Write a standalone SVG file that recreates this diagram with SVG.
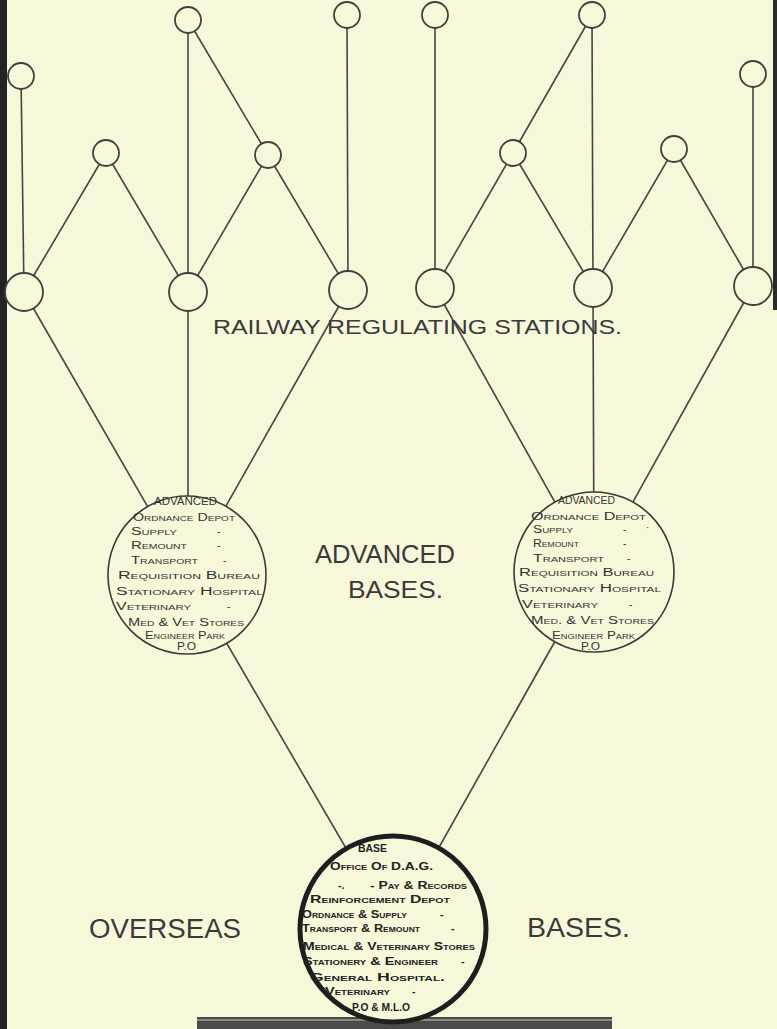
<svg xmlns="http://www.w3.org/2000/svg" width="777" height="1029" viewBox="0 0 777 1029">
<style>
.bg{fill:#f7f8da}
.ln{stroke:#454545;stroke-width:1.6;fill:none}
.st{stroke:#3f3f3f;stroke-width:1.8;fill:#f7f8da}
.big{stroke:#3a3a3a;stroke-width:1.6;fill:#f7f8da}
.base{stroke:#1e1e1e;stroke-width:5;fill:#f7f8da}
.s{font-family:"Liberation Sans",Arial,sans-serif;font-size:10px;font-variant:small-caps;fill:#333}
.b{font-family:"Liberation Sans",Arial,sans-serif;font-size:10.5px;font-variant:small-caps;font-weight:bold;fill:#222}
.lbl{font-family:"Liberation Sans",Arial,sans-serif;fill:#3a3a3a}
</style>
<rect class="bg" x="0" y="0" width="777" height="1029"/>
<rect x="0" y="0" width="7" height="1029" fill="#232323"/>
<rect x="773" y="0" width="4" height="310" fill="#2a2a2a"/>
<rect x="197" y="1017" width="415" height="12" fill="#4a4a48"/>
<rect x="197" y="1019" width="415" height="2" fill="#8a8a84"/>

<g id="connectors">
<line class="ln" x1="21" y1="76" x2="24" y2="292"/>
<line class="ln" x1="24" y1="292" x2="106" y2="153"/>
<line class="ln" x1="106" y1="153" x2="188" y2="292"/>
<line class="ln" x1="188" y1="20" x2="188" y2="292"/>
<line class="ln" x1="188" y1="20" x2="268" y2="155"/>
<line class="ln" x1="268" y1="155" x2="188" y2="292"/>
<line class="ln" x1="268" y1="155" x2="348" y2="290"/>
<line class="ln" x1="347" y1="15" x2="348" y2="290"/>
<line class="ln" x1="435" y1="15" x2="435" y2="288"/>
<line class="ln" x1="435" y1="288" x2="513" y2="153"/>
<line class="ln" x1="513" y1="153" x2="592" y2="15"/>
<line class="ln" x1="513" y1="153" x2="593" y2="288"/>
<line class="ln" x1="592" y1="15" x2="593" y2="288"/>
<line class="ln" x1="593" y1="288" x2="674" y2="149"/>
<line class="ln" x1="674" y1="149" x2="753" y2="286"/>
<line class="ln" x1="753" y1="74" x2="753" y2="286"/>
<line class="ln" x1="24" y1="292" x2="187" y2="575"/>
<line class="ln" x1="188" y1="292" x2="188" y2="575"/>
<line class="ln" x1="348" y1="290" x2="187" y2="575"/>
<line class="ln" x1="435" y1="288" x2="594" y2="572"/>
<line class="ln" x1="593" y1="288" x2="594" y2="572"/>
<line class="ln" x1="753" y1="286" x2="594" y2="572"/>
<line class="ln" x1="187" y1="575" x2="393" y2="929"/>
<line class="ln" x1="594" y1="572" x2="393" y2="929"/>
</g>

<g id="n-top-1"><circle class="st" cx="21" cy="76" r="13"/></g>
<g id="n-top-2"><circle class="st" cx="188" cy="20" r="13"/></g>
<g id="n-top-3"><circle class="st" cx="347" cy="15" r="13"/></g>
<g id="n-top-4"><circle class="st" cx="435" cy="15" r="13"/></g>
<g id="n-top-5"><circle class="st" cx="592" cy="15" r="13"/></g>
<g id="n-top-6"><circle class="st" cx="753" cy="74" r="13"/></g>
<g id="n-mid-1"><circle class="st" cx="106" cy="153" r="13"/></g>
<g id="n-mid-2"><circle class="st" cx="268" cy="155" r="13"/></g>
<g id="n-mid-3"><circle class="st" cx="513" cy="153" r="13"/></g>
<g id="n-mid-4"><circle class="st" cx="674" cy="149" r="13"/></g>
<g id="rs-1"><circle class="st" cx="24" cy="292" r="19"/></g>
<g id="rs-2"><circle class="st" cx="188" cy="292" r="19"/></g>
<g id="rs-3"><circle class="st" cx="348" cy="290" r="19"/></g>
<g id="rs-4"><circle class="st" cx="435" cy="288" r="19"/></g>
<g id="rs-5"><circle class="st" cx="593" cy="288" r="19"/></g>
<g id="rs-6"><circle class="st" cx="753" cy="286" r="19"/></g>

<g id="label-rrs"><text class="lbl" x="213" y="334" font-size="20" textLength="409" lengthAdjust="spacingAndGlyphs">RAILWAY REGULATING STATIONS.</text></g>

<g id="adv-left">
<circle class="big" cx="187" cy="575" r="79"/>
<text class="s" x="154" y="505" textLength="63" lengthAdjust="spacingAndGlyphs">ADVANCED</text>
<text class="s" x="133" y="521" textLength="102" lengthAdjust="spacingAndGlyphs">Ordnance Depot</text>
<text class="s" x="131" y="535" textLength="46" lengthAdjust="spacingAndGlyphs">Supply</text>
<text class="s" x="217" y="535">-</text>
<text class="s" x="131" y="549" textLength="56" lengthAdjust="spacingAndGlyphs">Remount</text>
<text class="s" x="217" y="549">-</text>
<text class="s" x="131" y="564" textLength="67" lengthAdjust="spacingAndGlyphs">Transport</text>
<text class="s" x="223" y="564">-</text>
<text class="s" x="118" y="579" textLength="142" lengthAdjust="spacingAndGlyphs">Requisition Bureau</text>
<text class="s" x="116" y="595" textLength="147" lengthAdjust="spacingAndGlyphs">Stationary Hospital</text>
<text class="s" x="116" y="610" textLength="75" lengthAdjust="spacingAndGlyphs">Veterinary</text>
<text class="s" x="227" y="610">-</text>
<text class="s" x="128" y="626" textLength="116" lengthAdjust="spacingAndGlyphs">Med &amp; Vet Stores</text>
<text class="s" x="145" y="639" textLength="80" lengthAdjust="spacingAndGlyphs">Engineer Park</text>
<text class="s" x="177" y="650" textLength="19" lengthAdjust="spacingAndGlyphs">P.O</text>
</g>

<g id="label-adv">
<text class="lbl" x="315" y="563" font-size="25" textLength="140" lengthAdjust="spacingAndGlyphs">ADVANCED</text>
<text class="lbl" x="348" y="598" font-size="24" textLength="95" lengthAdjust="spacingAndGlyphs">BASES.</text>
</g>

<g id="adv-right">
<circle class="big" cx="594" cy="572" r="80"/>
<text class="s" x="558" y="504" textLength="57" lengthAdjust="spacingAndGlyphs">ADVANCED</text>
<text class="s" x="531" y="520" textLength="115" lengthAdjust="spacingAndGlyphs">Ordnance Depot</text>
<text class="s" x="533" y="533" textLength="40" lengthAdjust="spacingAndGlyphs">Supply</text>
<text class="s" x="623" y="533">-</text>
<text class="s" x="646" y="531">·</text>
<text class="s" x="533" y="547" textLength="46" lengthAdjust="spacingAndGlyphs">Remount</text>
<text class="s" x="623" y="547">-</text>
<text class="s" x="533" y="562" textLength="71" lengthAdjust="spacingAndGlyphs">Transport</text>
<text class="s" x="627" y="562">-</text>
<text class="s" x="519" y="576" textLength="135" lengthAdjust="spacingAndGlyphs">Requisition Bureau</text>
<text class="s" x="518" y="592" textLength="143" lengthAdjust="spacingAndGlyphs">Stationary Hospital</text>
<text class="s" x="522" y="608" textLength="76" lengthAdjust="spacingAndGlyphs">Veterinary</text>
<text class="s" x="629" y="608">-</text>
<text class="s" x="531" y="624" textLength="123" lengthAdjust="spacingAndGlyphs">Med. &amp; Vet Stores</text>
<text class="s" x="552" y="639" textLength="83" lengthAdjust="spacingAndGlyphs">Engineer Park</text>
<text class="s" x="581" y="650" textLength="19" lengthAdjust="spacingAndGlyphs">P.O</text>
</g>

<g id="base">
<circle class="base" cx="393" cy="929" r="93"/>
<text class="b" x="358" y="852" textLength="29" lengthAdjust="spacingAndGlyphs">BASE</text>
<text class="b" x="330" y="870" textLength="103" lengthAdjust="spacingAndGlyphs">Office Of D.A.G.</text>
<text class="b" x="338" y="889">-.</text>
<text class="b" x="370" y="889" textLength="97" lengthAdjust="spacingAndGlyphs">- Pay &amp; Records</text>
<text class="b" x="310" y="903" textLength="140" lengthAdjust="spacingAndGlyphs">Reinforcement Depot</text>
<text class="b" x="302" y="918" textLength="105" lengthAdjust="spacingAndGlyphs">Ordnance &amp; Supply</text>
<text class="b" x="440" y="918">-</text>
<text class="b" x="302" y="932" textLength="118" lengthAdjust="spacingAndGlyphs">Transport &amp; Remount</text>
<text class="b" x="451" y="932">-</text>
<text class="b" x="303" y="950" textLength="172" lengthAdjust="spacingAndGlyphs">Medical &amp; Veterinary Stores</text>
<text class="b" x="303" y="965" textLength="135" lengthAdjust="spacingAndGlyphs">Stationery &amp; Engineer</text>
<text class="b" x="461" y="965">-</text>
<text class="b" x="310" y="981" textLength="135" lengthAdjust="spacingAndGlyphs">General Hospital.</text>
<text class="b" x="325" y="995" textLength="65" lengthAdjust="spacingAndGlyphs">Veterinary</text>
<text class="b" x="412" y="995">-</text>
<text class="b" x="352" y="1011" textLength="58" lengthAdjust="spacingAndGlyphs">P.O &amp; M.L.O</text>
</g>

<g id="label-overseas">
<text class="lbl" x="89" y="938" font-size="27" textLength="152" lengthAdjust="spacingAndGlyphs">OVERSEAS</text>
<text class="lbl" x="527" y="937" font-size="27" textLength="103" lengthAdjust="spacingAndGlyphs">BASES.</text>
</g>
</svg>
